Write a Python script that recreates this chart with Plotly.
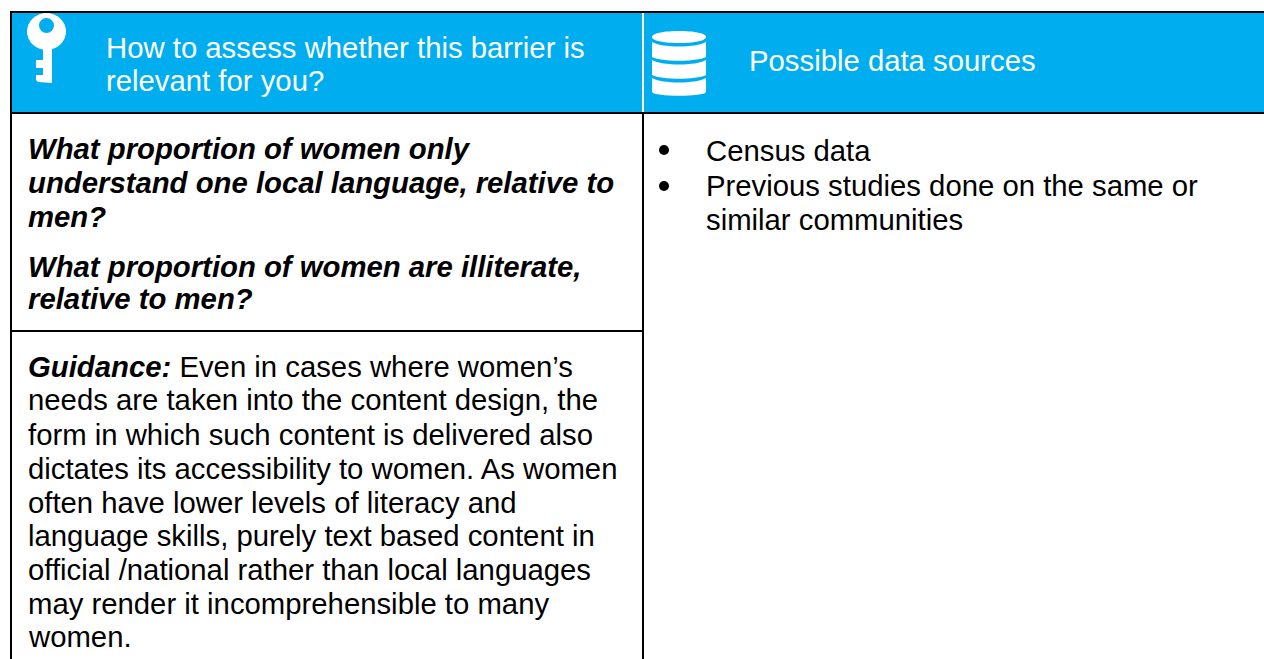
import plotly.graph_objects as go

W, H = 1264, 659
BLUE = "#00AEEF"
FONT = "Liberation Sans"
FS = 29.3

header_left = ["How to assess whether this barrier is", "relevant for you?"]
header_left_y = [47.5, 80]
header_right = ["Possible data sources"]
header_right_y = [60.5]
question_lines = ["What proportion of women only", "understand one local language, relative to", "men?",
                  "What proportion of women are illiterate,", "relative to men?"]
question_y = [148, 182, 216, 266, 298]
guidance_lines = ["<b><i>Guidance:</i></b> Even in cases where women’s",
                  "needs are taken into the content design, the",
                  "form in which such content is delivered also",
                  "dictates its accessibility to women. As women",
                  "often have lower levels of literacy and",
                  "language skills, purely text based content in",
                  "official /national rather than local languages",
                  "may render it incomprehensible to many",
                  "women."]
guidance_y = [366, 399, 434, 468, 502, 535, 569, 603, 636]
source_lines = ["Census data", "Previous studies done on the same or", "similar communities"]
source_y = [150, 185, 219]
bullet_y = [150, 186]

fig = go.Figure()
ann = []
def add(t, x, y, color, size=FS):
    ann.append(dict(text=t, x=x, y=y, xref="x", yref="y", xanchor="left", yanchor="middle",
                    showarrow=False, align="left", borderpad=0, borderwidth=0,
                    font=dict(family=FONT, size=size, color=color)))
for t, y in zip(header_left, header_left_y): add(t, 106, y, "white")
for t, y in zip(header_right, header_right_y): add(t, 749, y, "white")
for t, y in zip(question_lines, question_y): add(f"<b><i>{t}</i></b>", 28, y, "black")
for t, y in zip(guidance_lines, guidance_y): add(t, 28, y, "black")
for t, y in zip(source_lines, source_y): add(t, 706, y, "black")

shapes = [
    dict(type="rect", x0=11, x1=W, y0=12, y1=113, fillcolor=BLUE, line_width=0, layer="below"),
]
for y in bullet_y:
    shapes.append(dict(type="circle", x0=659, x1=669, y0=y - 5, y1=y + 5, fillcolor="black", line_width=0))
def line(x0, y0, x1, y1, c="black", w=2):
    shapes.append(dict(type="line", x0=x0, y0=y0, x1=x1, y1=y1, line=dict(color=c, width=w)))
line(10, 12, W, 12); line(10, 113, W, 113)
line(11, 12, 11, 659); line(11, 331, 643, 331)
line(643, 13, 643, 112, "white"); line(643, 113, 643, 659)

# key icon
shapes += [
    dict(type="circle", x0=27, x1=66, y0=13, y1=50, fillcolor="white", line_width=0),
    dict(type="circle", x0=39, x1=54, y0=18, y1=33, fillcolor=BLUE, line_width=0),
    dict(type="path", path="M 43 47 L 52 47 L 52 83 L 38 82 L 36 80 L 36 75 L 43 75 L 43 68 L 36 68 L 36 60 L 43 60 Z",
         fillcolor="white", line_width=0),
]
# database icon
shapes += [
    dict(type="path", path="M 652 37 C 652 29 706 29 706 37 C 706 45 652 45 652 37 Z", fillcolor="white", line_width=0),
    dict(type="path", path="M 652 42 C 662 48 696 48 706 42 L 706 57 C 696 62 662 62 652 57 Z", fillcolor="white", line_width=0),
    dict(type="path", path="M 652 60 C 662 66 696 66 706 60 L 706 75 C 696 80 662 80 652 75 Z", fillcolor="white", line_width=0),
    dict(type="path", path="M 652 78 C 662 84 696 84 706 78 L 706 92 C 704 97 654 97 652 92 Z", fillcolor="white", line_width=0),
]
fig.update_layout(width=W, height=H, margin=dict(l=0, r=0, t=0, b=0), paper_bgcolor="white", plot_bgcolor="white",
                  xaxis=dict(range=[0, W], visible=False, fixedrange=True),
                  yaxis=dict(range=[H, 0], visible=False, fixedrange=True),
                  annotations=ann, shapes=shapes, showlegend=False)
fig.write_html("out.html", config=dict(displayModeBar=False),
               post_script="document.body.style.margin='0';document.documentElement.style.overflow='hidden';")
